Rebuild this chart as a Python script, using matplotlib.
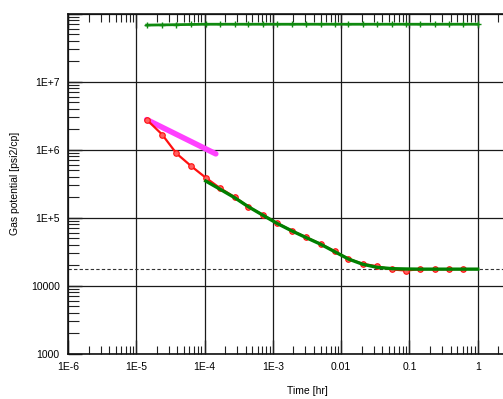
import matplotlib
matplotlib.use("Agg")
import matplotlib.pyplot as plt
from matplotlib.ticker import LogLocator, FixedLocator, FixedFormatter, NullFormatter

plt.rcParams['font.family'] = ['Liberation Sans', 'DejaVu Sans']

# Measured derivative data (time in hr, gas potential derivative in psi2/cp)
time_deriv = [1.42e-5, 2.39e-5, 3.88e-5, 6.43e-5, 1.04e-4, 1.67e-4, 2.77e-4, 4.33e-4,
              7.16e-4, 1.15e-3, 1.90e-3, 3.09e-3, 5.00e-3, 8.01e-3, 1.28e-2, 2.08e-2,
              3.37e-2, 5.51e-2, 8.95e-2, 0.145, 0.238, 0.376, 0.601]
deriv = [2.75e6, 1.66e6, 8.74e5, 5.65e5, 3.85e5, 2.72e5, 1.99e5, 1.45e5,
         1.09e5, 8.28e4, 6.39e4, 5.10e4, 4.09e4, 3.18e4, 2.47e4, 2.08e4,
         1.92e4, 1.72e4, 1.66e4, 1.74e4, 1.74e4, 1.74e4, 1.74e4]

# Model derivative
time_model = [1.04e-4, 1.67e-4, 2.77e-4, 4.33e-4, 7.16e-4, 1.15e-3, 1.90e-3, 3.09e-3,
              5.00e-3, 8.01e-3, 1.28e-2, 2.08e-2, 3.37e-2, 5.51e-2, 8.95e-2, 0.145,
              0.238, 0.376, 0.601, 1.0]
model = [3.44e5, 2.62e5, 1.95e5, 1.45e5, 1.08e5, 8.20e4, 6.35e4, 5.05e4,
         4.05e4, 3.15e4, 2.45e4, 2.05e4, 1.85e4, 1.77e4, 1.75e4, 1.74e4,
         1.74e4, 1.74e4, 1.74e4, 1.74e4]

# Model pressure change (upper curve)
time_pressure = time_deriv + [1.0]
pressure = [6.75e7, 6.8e7, 6.85e7, 6.9e7, 6.95e7, 6.95e7, 6.95e7, 6.95e7,
            6.95e7, 6.95e7, 6.95e7, 6.95e7, 6.95e7, 6.95e7, 6.95e7, 6.95e7,
            6.95e7, 6.95e7, 6.95e7, 6.95e7, 6.95e7, 6.95e7, 6.95e7, 6.95e7]

# Half-slope line
time_half = [1.42e-5, 1.46e-4]
half = [2.75e6, 8.63e5]

# Stabilisation level
stab_level = 1.74e4

x_ticks = [1e-6, 1e-5, 1e-4, 1e-3, 1e-2, 1e-1, 1, 10]
x_labels = ["1E-6", "1E-5", "1E-4", "1E-3", "0.01", "0.1", "1", ""]
y_ticks = [1e3, 1e4, 1e5, 1e6, 1e7, 1e8]
y_labels = ["1000", "10000", "1E+5", "1E+6", "1E+7", ""]

W, H = 503, 399
fig = plt.figure(figsize=(W / 100, H / 100), dpi=100)
left, right, bottom, top = 68, 546, 353.5, 13.5
ax = fig.add_axes([left / W, (H - bottom) / H, (right - left) / W, (bottom - top) / H])
ax.set_xscale('log')
ax.set_yscale('log')
ax.set_xlim(1e-6, 10)
ax.set_ylim(1e3, 1e8)

ax.grid(True, which='major', color='#1a1a1a', linewidth=0.9)
ax.set_axisbelow(True)

ax.axhline(stab_level, color='#333333', linestyle=(0, (3, 2)), linewidth=0.8, zorder=2)

ax.plot(time_half, half, color='#ff40ff', linewidth=4, solid_capstyle='round', zorder=3)
ax.plot(time_deriv, deriv, color='#ff1010', linewidth=1.6, marker='o', markersize=4,
        markerfacecolor='#ff6060', markeredgecolor='#ff1010', markeredgewidth=0.8, zorder=4)
ax.plot(time_model, model, color='#008000', linewidth=2.4, zorder=5)
ax.plot(time_pressure, pressure, color='#108a10', linewidth=2, marker='+', markersize=5,
        markeredgewidth=1, zorder=5)

ax.xaxis.set_major_locator(FixedLocator(x_ticks))
ax.xaxis.set_major_formatter(FixedFormatter(x_labels))
ax.yaxis.set_major_locator(FixedLocator(y_ticks))
ax.yaxis.set_major_formatter(FixedFormatter(y_labels))
for axis in (ax.xaxis, ax.yaxis):
    axis.set_minor_locator(LogLocator(base=10, subs=range(2, 10), numticks=20))
    axis.set_minor_formatter(NullFormatter())

ax.tick_params(which='both', direction='in', top=True, right=True, color='#222222',
               labelsize=7.5, pad=6)
ax.tick_params(which='major', length=10, width=1)
ax.tick_params(which='minor', length=6, width=0.8)
ax.tick_params(axis='y', which='minor', length=8)

for s in ax.spines.values():
    s.set_color('#111111')
    s.set_linewidth(1.2)

ax.set_xlabel("Time [hr]", fontsize=7.5, labelpad=10)
ax.set_ylabel("Gas potential [psi2/cp]", fontsize=7.5, labelpad=8)

fig.savefig("out.png", dpi=100)
